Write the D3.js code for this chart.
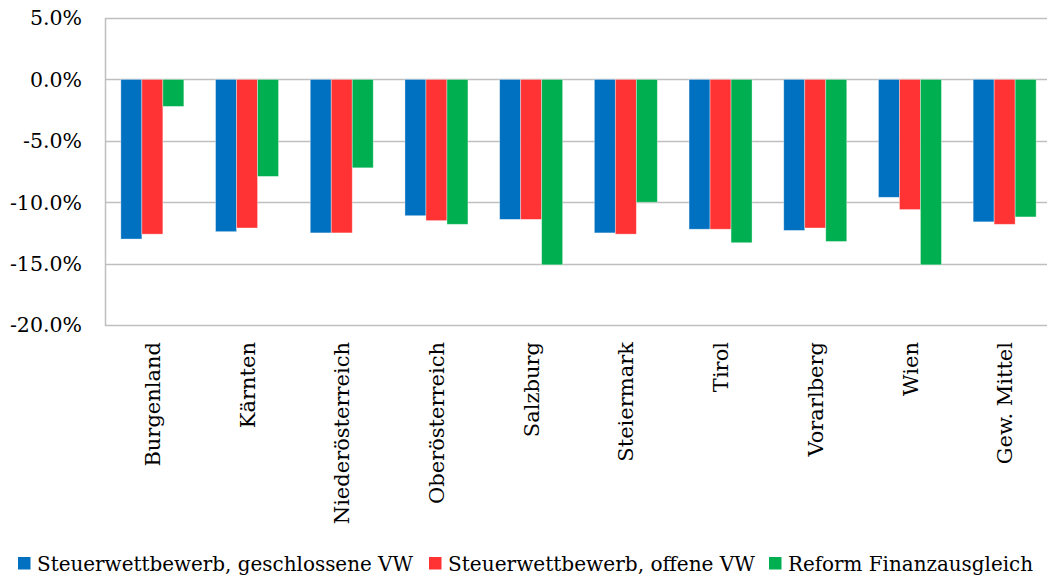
<!DOCTYPE html>
<html>
<head>
<meta charset="utf-8">
<script src="https://cdn.jsdelivr.net/npm/d3@7"></script>
<style>
  body { margin: 0; background: #fff; }
  svg { display: block; }
  text { font-family: "DejaVu Serif", "Liberation Serif", serif; fill: #000; }
</style>
</head>
<body>
<svg width="1047" height="577"></svg>
<script>
var svg = d3.select("svg");

var categories = ["Burgenland", "Kärnten", "Niederösterreich", "Oberösterreich", "Salzburg",
    "Steiermark", "Tirol", "Vorarlberg", "Wien", "Gew. Mittel"];
var seriesNames = ["Steuerwettbewerb, geschlossene VW", "Steuerwettbewerb, offene VW", "Reform Finanzausgleich"];
var seriesColors = ["#0070C0", "#FF3333", "#00B050"];
var geschlossen = [-13.0, -12.4, -12.5, -11.1, -11.4, -12.5, -12.2, -12.3, -9.6, -11.6];
var offen = [-12.6, -12.1, -12.5, -11.5, -11.4, -12.6, -12.2, -12.1, -10.6, -11.8];
var reform = [-2.2, -7.9, -7.2, -11.8, -15.1, -10.0, -13.3, -13.2, -15.1, -11.2];
var yTicks = [5, 0, -5, -10, -15, -20];

var seriesValues = [geschlossen, offen, reform];

var plotLeft = 105, plotRight = 1052, plotTop = 18, plotBottom = 325;

var x = d3.scaleBand().domain(categories).range([plotLeft, plotRight]).paddingInner(0).paddingOuter(0);
var xs = d3.scaleBand().domain(d3.range(3)).range([0, x.bandwidth()]).paddingInner(0).paddingOuter(0.755);
var y = d3.scaleLinear().domain([-20, 5]).range([plotBottom, plotTop]);

// gridlines
svg.append("g")
    .selectAll("line")
    .data(yTicks)
    .enter().append("line")
    .attr("x1", plotLeft).attr("x2", plotRight)
    .attr("y1", function (d) { return Math.round(y(d)) + 0.5; })
    .attr("y2", function (d) { return Math.round(y(d)) + 0.5; })
    .attr("stroke", "#BFBFBF")
    .attr("stroke-width", 1.5);

// left axis line
svg.append("line")
    .attr("x1", plotLeft + 0.5).attr("x2", plotLeft + 0.5)
    .attr("y1", plotTop).attr("y2", plotBottom + 1)
    .attr("stroke", "#BFBFBF")
    .attr("stroke-width", 1.5);

// y tick labels
svg.append("g")
    .selectAll("text")
    .data(yTicks)
    .enter().append("text")
    .attr("x", 82)
    .attr("y", function (d) { return y(d); })
    .attr("dy", "0.36em")
    .attr("text-anchor", "end")
    .style("font-size", "20.5px")
    .text(function (d) { return d.toFixed(1) + "%"; });

// bars
var rows = categories.map(function (c, i) {
    return { cat: c, vals: seriesValues.map(function (s) { return s[i]; }) };
});

var groups = svg.append("g")
    .selectAll("g")
    .data(rows)
    .enter().append("g")
    .attr("transform", function (d) { return "translate(" + x(d.cat) + ",0)"; });

groups.selectAll("rect")
    .data(function (d) { return d.vals.map(function (v, k) { return { v: v, k: k }; }); })
    .enter().append("rect")
    .attr("x", function (d) { return xs(d.k); })
    .attr("width", xs.bandwidth())
    .attr("y", function (d) { return y(Math.max(0, d.v)); })
    .attr("height", function (d) { return Math.abs(y(d.v) - y(0)); })
    .attr("fill", function (d) { return seriesColors[d.k]; })
    .attr("stroke", "rgba(255,255,255,0.45)")
    .attr("stroke-width", 0.8);

// category labels
svg.append("g")
    .selectAll("text")
    .data(categories)
    .enter().append("text")
    .attr("transform", function (d) {
        return "translate(" + (x(d) + x.bandwidth() / 2) + ",342) rotate(-90)";
    })
    .attr("dy", "0.36em")
    .attr("text-anchor", "end")
    .style("font-size", "21px")
    .text(function (d) { return d; });

// legend
var legendX = [18, 429, 769];
var legendW = [376, 307, 245];
var legend = svg.append("g")
    .selectAll("g")
    .data(seriesNames)
    .enter().append("g")
    .attr("transform", function (d, i) { return "translate(" + legendX[i] + ",557)"; });

legend.append("rect")
    .attr("width", 12.5).attr("height", 12.5)
    .attr("fill", function (d, i) { return seriesColors[i]; });

legend.append("text")
    .attr("x", 19)
    .attr("y", 13.5)
    .attr("textLength", function (d, i) { return legendW[i]; })
    .attr("lengthAdjust", "spacingAndGlyphs")
    .style("font-size", "21px")
    .text(function (d) { return d; });
</script>
</body>
</html>
